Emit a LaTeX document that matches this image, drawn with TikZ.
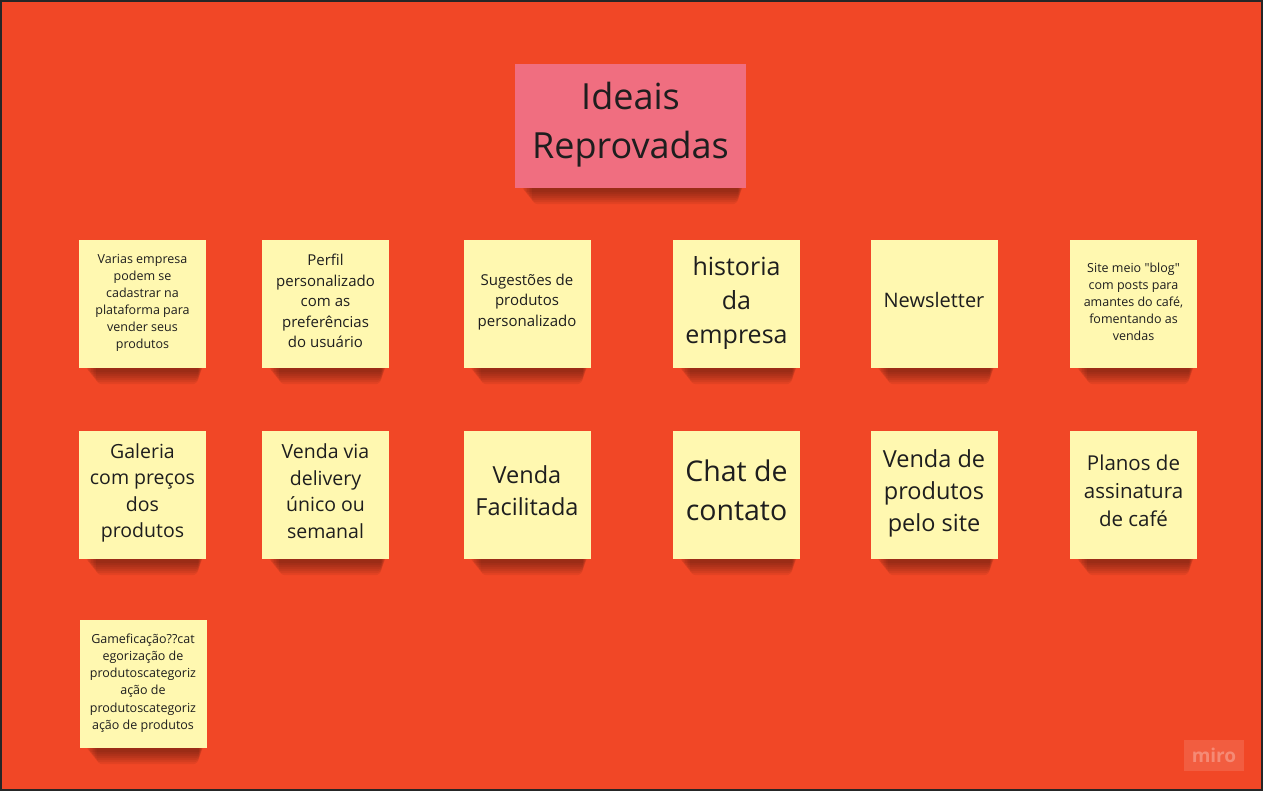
\documentclass[tikz,border=0pt]{standalone}
\usepackage{fontspec}
\setmainfont{Open Sans}[Ligatures=TeXOff]
\usetikzlibrary{backgrounds,calc}
\definecolor{bgred}{HTML}{F14726}
\definecolor{noteyellow}{HTML}{FFF8B0}
\definecolor{notepink}{HTML}{F06E80}
\definecolor{notetext}{HTML}{1E1E1E}
\definecolor{framecol}{HTML}{262626}
\newcommand\noteshadow[1]{%
  \foreach \i in {1,...,7} {%
    \fill[black, opacity=0.06, rounded corners=6pt]
      ($(#1.south west)+(6+\i*1.6,-20)$) rectangle ($(#1.south east)+(-3-\i*0.7,2+2*\i)$);
  }%
}
\newcommand\fs[2]{\fontsize{#1}{#2}\selectfont}
% \sticky{name}{position}{text style}{upward text shift}{text}
\newcommand\sticky[5]{%
  \node[note] (#1) at #2 {};
  \node[notetxt, #3] (#1t) at ($(#1.center)+(0,-#4)$) {#5};
}
\begin{document}
\begin{tikzpicture}[x=1pt,y=-1pt,
  note/.style={fill=noteyellow, minimum width=127pt, minimum height=128pt, inner sep=0pt},
  notetxt/.style={inner sep=0pt, align=center, text=notetext},
  titlenote/.style={fill=notepink, minimum width=231pt, minimum height=124pt,
    inner sep=0pt, align=center, text=notetext},
  s/.style={font=\fs{12.5}{17}},
  m/.style={font=\fs{15}{20.5}},
  l/.style={font=\fs{19.5}{26.5}},
  xl/.style={font=\fs{23.5}{32}},
]
\useasboundingbox (0,0) rectangle (1263,791);
\begin{scope}[on background layer]
  \fill[bgred] (0,0) rectangle (1263,791);
\end{scope}

% title
\node[titlenote] (title) at (630.5,126) {};
\node[notetxt, font=\fs{36}{49}] (titlet) at ($(title.center)+(0,-1)$) {Ideais\\Reprovadas};

% row 1
\sticky{n11}{(142.5,304)}{s}{1}{Varias empresa\\podem se\\cadastrar na\\plataforma para\\vender seus\\produtos}
\sticky{n12}{(325.5,304)}{m}{3}{Perfil\\personalizado\\com as\\preferências\\do usuário}
\sticky{n13}{(527,304)}{m}{2}{Sugestões de\\produtos\\personalizado}
\sticky{n14}{(736.5,304)}{font=\fs{25}{34}}{1}{historia\\da\\empresa}
\sticky{n15}{(934,304)}{font=\fs{20}{27}}{4}{Newsletter}
\sticky{n16}{(1133.5,304)}{s}{2}{Site meio "blog"\\com posts para\\amantes do café,\\fomentando as\\vendas}

% row 2
\sticky{n21}{(142.5,495)}{l}{2}{Galeria\\com preços\\dos\\produtos}
\sticky{n22}{(325.5,495)}{l}{4}{Venda via\\delivery\\único ou\\semanal}
\sticky{n23}{(527,495)}{xl}{4}{Venda\\Facilitada}
\sticky{n24}{(736.5,495)}{font=\fs{28.5}{39}}{5}{Chat de\\contato}
\sticky{n25}{(934,495)}{xl}{2}{Venda de\\produtos\\pelo site}
\sticky{n26}{(1133.5,495)}{font=\fs{20.5}{28}}{4}{Planos de\\assinatura\\de café}

% row 3
\sticky{n31}{(143,684)}{font=\fs{12.5}{17.3}}{1}{Gameficação??cat\\egorização de\\produtoscategoriz\\ação de\\produtoscategoriz\\ação de produtos}

\begin{scope}[on background layer]
  \foreach \n in {title,n11,n12,n13,n14,n15,n16,n21,n22,n23,n24,n25,n26,n31} {\noteshadow{\n}}
\end{scope}

% miro logo
\node[fill=white, fill opacity=0.12, text opacity=0.28, text=white, minimum width=60pt,
  minimum height=31pt, inner sep=0pt, font=\fs{19}{22}\bfseries] (logo) at (1214,755.5) {miro};

% frame
\draw[framecol, line width=2pt] (1,1) rectangle (1262,790);
\end{tikzpicture}
\end{document}
